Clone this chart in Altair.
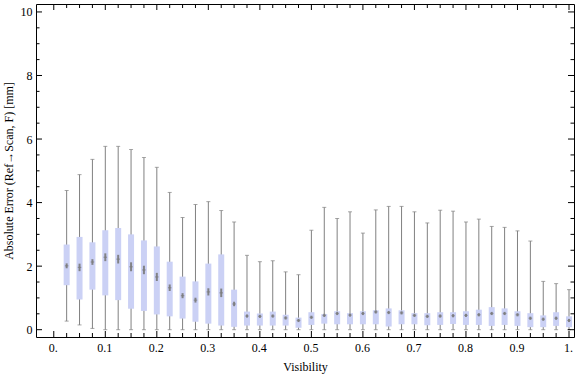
import altair as alt
import pandas as pd

vis = [0.025, 0.05, 0.075, 0.1, 0.125, 0.15, 0.175, 0.2, 0.225, 0.25,
       0.275, 0.3, 0.325, 0.35, 0.375, 0.4, 0.425, 0.45, 0.475, 0.5,
       0.525, 0.55, 0.575, 0.6, 0.625, 0.65, 0.675, 0.7, 0.725, 0.75,
       0.775, 0.8, 0.825, 0.85, 0.875, 0.9, 0.925, 0.95, 0.975, 1.0]
low = [0.27, 0.15, 0.04, 0.0, 0.0, 0.0, 0.0, 0.0, 0.0, 0.0,
       0.0, 0.0, 0.0, 0.0, 0.0, 0.0, 0.0, 0.0, 0.0, 0.0,
       0.0, 0.0, 0.0, 0.0, 0.0, 0.0, 0.0, 0.0, 0.0, 0.0,
       0.0, 0.0, 0.0, 0.0, 0.0, 0.0, 0.0, 0.0, 0.0, 0.0]
q1 = [1.40, 0.95, 1.26, 1.08, 0.93, 0.66, 0.59, 0.48, 0.42, 0.35,
      0.25, 0.19, 0.13, 0.09, 0.13, 0.13, 0.13, 0.13, 0.06, 0.15,
      0.19, 0.17, 0.17, 0.17, 0.17, 0.10, 0.17, 0.17, 0.14, 0.15,
      0.18, 0.15, 0.15, 0.12, 0.15, 0.12, 0.08, 0.08, 0.12, 0.08]
med = [2.01, 1.96, 2.13, 2.28, 2.22, 1.98, 1.88, 1.66, 1.32, 1.07,
       0.93, 1.19, 1.16, 0.81, 0.43, 0.42, 0.43, 0.37, 0.29, 0.39,
       0.45, 0.51, 0.46, 0.51, 0.56, 0.54, 0.53, 0.45, 0.42, 0.43,
       0.44, 0.45, 0.47, 0.51, 0.51, 0.47, 0.36, 0.33, 0.36, 0.29]
q3 = [2.68, 2.92, 2.75, 3.13, 3.20, 3.00, 2.81, 2.62, 2.14, 1.67,
      1.52, 2.08, 2.37, 1.26, 0.57, 0.51, 0.57, 0.47, 0.38, 0.55,
      0.49, 0.58, 0.52, 0.58, 0.61, 0.67, 0.61, 0.52, 0.52, 0.55,
      0.55, 0.58, 0.63, 0.71, 0.67, 0.58, 0.52, 0.45, 0.55, 0.42]
high = [4.38, 4.88, 5.36, 5.77, 5.77, 5.67, 5.42, 5.11, 4.32, 3.53,
        3.94, 4.03, 3.75, 3.39, 2.34, 2.14, 2.17, 1.82, 1.73, 3.13,
        3.85, 3.50, 3.71, 3.04, 3.77, 3.88, 3.88, 3.71, 3.36, 3.76,
        3.73, 3.39, 3.48, 3.25, 3.22, 3.11, 2.79, 1.52, 1.45, 1.26]

x_label_vals = [0.0, 0.1, 0.2, 0.3, 0.4, 0.5, 0.6, 0.7, 0.8, 0.9, 1.0]
y_label_vals = [0, 2, 4, 6, 8, 10]
x_minor = [round(i * 0.025, 3) for i in range(41)]
y_minor = [i * 0.5 for i in range(21)]

df = pd.DataFrame(dict(vis=vis, low=low, q1=q1, med=med, q3=q3, high=high))
xt_major = pd.DataFrame(dict(vis=x_label_vals))
xt_minor = pd.DataFrame(dict(vis=[v for v in x_minor if abs(v * 10 - round(v * 10)) > 1e-6]))
yt_major = pd.DataFrame(dict(err=y_label_vals))
yt_minor = pd.DataFrame(dict(err=[v for v in y_minor if v % 2 != 0]))

W, H = 538, 333
FONT = "Liberation Serif"
XT = "Visibility"
YT = "Absolute Error (Ref\u2192Scan, F) [mm]"

xs = alt.Scale(domain=[-0.0345, 1.0097], nice=False, zero=False, padding=0)
ys = alt.Scale(domain=[-0.23, 10.25], nice=False, zero=False, padding=0)

x_axis = alt.Axis(values=x_label_vals,
                  labelExpr="datum.value == 0 ? '0.' : (datum.value == 1 ? '1.' : format(datum.value, '.1f'))",
                  ticks=False, domain=False, grid=False, labelPadding=5, labelOffset=-1,
                  labelFont=FONT, labelFontSize=12, labelColor="#000",
                  titleFont=FONT, titleFontSize=12, titleFontWeight="normal",
                  titleColor="#000", titlePadding=8)
y_axis = alt.Axis(values=y_label_vals, ticks=False, domain=False, grid=False,
                  labelPadding=4, labelFont=FONT, labelFontSize=12, labelColor="#000",
                  titleFont=FONT, titleFontSize=12, titleFontWeight="normal",
                  titleColor="#000", titlePadding=5)


def X(f):
    return alt.X(f, type="quantitative", scale=xs, axis=x_axis, title=XT)


def Y(f):
    return alt.Y(f, type="quantitative", scale=ys, axis=y_axis, title=YT)


base = alt.Chart(df)
GRAY = "#808080"

whisk = base.mark_rule(color=GRAY, strokeWidth=1).encode(
    x=X("vis"), y=Y("low"), y2="high:Q")
cap_hi = base.mark_tick(orient="horizontal", size=4, thickness=1, color=GRAY).encode(
    x=X("vis"), y=Y("high"))
cap_lo = base.mark_tick(orient="horizontal", size=4, thickness=1, color=GRAY).encode(
    x=X("vis"), y=Y("low"))
box = base.mark_bar(size=6, color="#CBD1F5", orient="vertical").encode(
    x=X("vis"), y=Y("q1"), y2="q3:Q")
notch = base.transform_calculate(
    nlo="datum.med - max(0.06*(datum.q3-datum.q1), 0.05)",
    nhi="datum.med + max(0.06*(datum.q3-datum.q1), 0.05)",
).mark_rule(strokeWidth=2, color="#7a7a7a", opacity=0.9).encode(
    x=X("vis"), y=Y("nlo:Q"), y2="nhi:Q")
medtick = base.mark_tick(orient="horizontal", size=3.5, thickness=1.2, color="#7a7a7a").encode(
    x=X("vis"), y=Y("med"))

TC = "#000"
layers = [whisk, cap_hi, cap_lo, box, notch, medtick]
for d, L in ((xt_major, 6), (xt_minor, 4)):
    c = alt.Chart(d)
    layers.append(c.mark_rule(color=TC, strokeWidth=1).encode(
        x=X("vis"), y=alt.value(H), y2=alt.value(H - L)))
    layers.append(c.mark_rule(color=TC, strokeWidth=1).encode(
        x=X("vis"), y=alt.value(0), y2=alt.value(L)))
for d, L in ((yt_major, 6), (yt_minor, 3.5)):
    c = alt.Chart(d)
    layers.append(c.mark_rule(color=TC, strokeWidth=1).encode(
        y=Y("err"), x=alt.value(0), x2=alt.value(L)))
    layers.append(c.mark_rule(color=TC, strokeWidth=1).encode(
        y=Y("err"), x=alt.value(W), x2=alt.value(W - L)))

chart = alt.layer(*layers).properties(
    width=W, height=H, background="white",
    padding={"left": 36, "top": 4, "right": 2, "bottom": 40},
    autosize=alt.AutoSizeParams(type="none"),
).configure_view(stroke="#000", strokeWidth=1)

chart.save("out.html", embed_options={"renderer": "svg", "actions": False})
